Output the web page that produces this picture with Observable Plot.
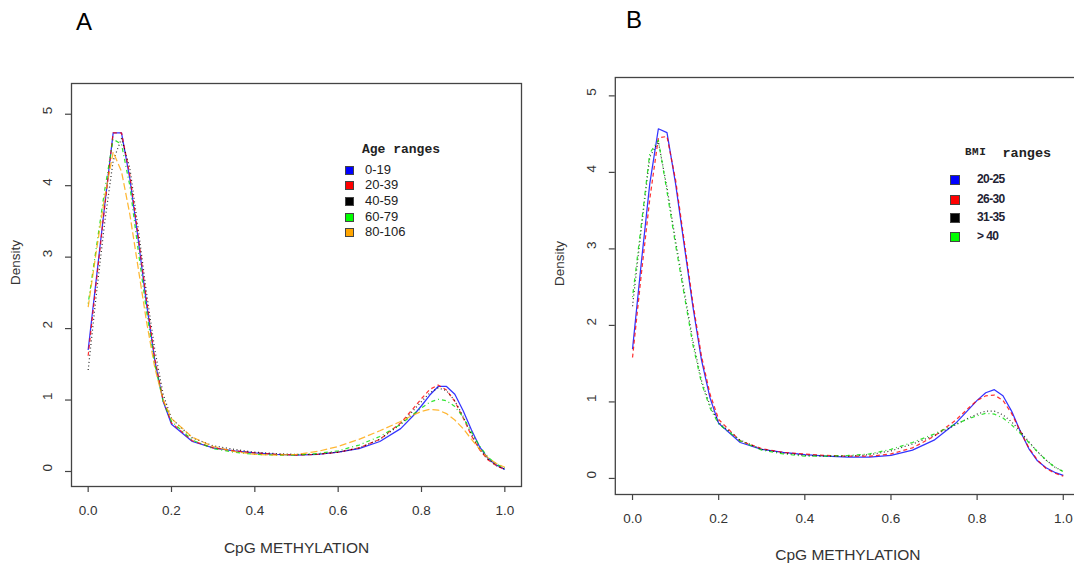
<!DOCTYPE html>
<html><head><meta charset="utf-8">
<script src="https://cdn.jsdelivr.net/npm/d3@7"></script>
<script src="https://cdn.jsdelivr.net/npm/@observablehq/plot@0.6"></script>
<style>
html,body{margin:0;padding:0;background:#fff;}
body{width:1074px;height:565px;overflow:hidden;position:relative;font-family:"Liberation Sans",Arial,sans-serif;}
.panel{position:absolute;top:0;height:565px;}
.panel svg{max-width:none !important;}
.letter{position:absolute;font-size:24px;color:#000;line-height:1;}
.legtitle{position:absolute;font-family:"Liberation Mono","DejaVu Sans Mono",monospace;font-weight:bold;color:#222;line-height:1;white-space:pre;}
.legrow{position:absolute;line-height:1;white-space:pre;}
.sw{position:absolute;box-sizing:border-box;border:1px solid #444;}
</style></head><body>
<div id="A" class="panel" style="left:0;width:540px"></div>
<div id="B" class="panel" style="left:540px;width:560px"></div>
<div class="letter" style="left:76px;top:10px">A</div>
<div class="letter" style="left:626px;top:8px">B</div>
<script>
// ---------- data ----------
const xGrid = [0,0.02,0.04,0.06,0.08,0.10,0.12,0.14,0.16,0.18,0.20,0.25,0.30,0.35,0.40,0.45,0.50,0.55,0.60,0.65,0.70,0.75,0.78,0.80,0.82,0.84,0.86,0.88,0.90,0.92,0.94,0.96,0.98,1.00];

const ageGroups = ["0-19","20-39","40-59","60-79","80-106"];
const age_0_19   = [1.70,2.72,3.74,4.74,4.74,4.10,3.25,2.35,1.55,0.98,0.66,0.42,0.33,0.29,0.26,0.24,0.23,0.24,0.27,0.32,0.42,0.60,0.78,0.92,1.07,1.19,1.19,1.08,0.85,0.58,0.34,0.18,0.09,0.03];
const age_20_39  = [1.62,2.68,3.72,4.74,4.74,4.15,3.30,2.40,1.58,1.00,0.68,0.43,0.33,0.29,0.26,0.24,0.23,0.24,0.27,0.33,0.45,0.68,0.88,1.02,1.15,1.21,1.14,0.98,0.75,0.50,0.30,0.16,0.08,0.03];
const age_40_59  = [1.42,2.50,3.50,4.35,4.66,4.25,3.40,2.50,1.70,1.08,0.74,0.47,0.36,0.31,0.27,0.25,0.24,0.24,0.27,0.33,0.45,0.66,0.85,0.98,1.10,1.17,1.13,0.99,0.77,0.52,0.31,0.17,0.08,0.03];
const age_60_79  = [2.35,3.15,3.95,4.65,4.58,4.00,3.10,2.25,1.50,0.98,0.70,0.44,0.32,0.27,0.24,0.23,0.23,0.25,0.29,0.37,0.49,0.66,0.80,0.89,0.97,1.01,0.99,0.91,0.76,0.55,0.35,0.20,0.10,0.05];
const age_80_106 = [2.30,3.10,3.85,4.47,4.20,3.60,2.85,2.10,1.45,1.00,0.74,0.48,0.35,0.28,0.24,0.23,0.24,0.28,0.35,0.45,0.57,0.70,0.79,0.84,0.87,0.86,0.81,0.72,0.60,0.45,0.31,0.19,0.11,0.06];

const bmiGroups = ["20-25","26-30","31-35","> 40"];
const bmi_20_25 = [1.69,2.80,3.85,4.57,4.52,3.85,3.05,2.25,1.55,1.05,0.72,0.47,0.38,0.34,0.31,0.29,0.28,0.28,0.30,0.37,0.50,0.72,0.90,1.02,1.12,1.16,1.08,0.88,0.62,0.39,0.23,0.14,0.08,0.04];
const bmi_26_30 = [1.58,2.65,3.65,4.45,4.47,3.90,3.10,2.30,1.60,1.10,0.77,0.49,0.39,0.34,0.32,0.30,0.29,0.29,0.32,0.40,0.55,0.76,0.92,1.02,1.08,1.09,1.02,0.85,0.62,0.40,0.24,0.13,0.07,0.03];
const bmi_31_35 = [2.25,3.25,4.20,4.40,3.80,3.10,2.45,1.80,1.28,0.95,0.73,0.50,0.38,0.33,0.30,0.29,0.29,0.31,0.36,0.45,0.56,0.70,0.79,0.84,0.88,0.88,0.83,0.74,0.62,0.48,0.35,0.24,0.15,0.09];
const bmi_gt_40 = [2.37,3.30,4.25,4.42,3.75,3.05,2.40,1.75,1.25,0.92,0.71,0.49,0.37,0.32,0.29,0.29,0.30,0.32,0.38,0.47,0.58,0.71,0.78,0.82,0.85,0.84,0.79,0.70,0.59,0.47,0.35,0.24,0.15,0.09];

const xTicks = [0,0.2,0.4,0.6,0.8,1.0];
const yTicks = [0,1,2,3,4,5];
const xTitle = "CpG METHYLATION";
const yTitle = "Density";

// ---------- styles ----------
const lineColors = ["#0000ff","#ff0000","#000000","#00dd00","#ffa500"];
const lineDash   = [null,"4,3","1,2.6","1,3,4,3","7,3"];
const swatchColors = ["#0000ff","#ff0000","#000000","#00ff00","#ffa500"];

function panel(el, cfg) {
  const rows = [];
  cfg.series.forEach((vals, i) => vals.forEach((v, j) => rows.push({g: cfg.groups[i], i, x: xGrid[j], y: v})));
  const lines = cfg.series.map((_, i) => Plot.line(rows.filter(r => r.i === i), {
    x: "x", y: "y", stroke: lineColors[i], strokeWidth: 1.25, strokeOpacity: 0.8,
    strokeDasharray: lineDash[i], strokeLinecap: "butt", curve: "linear"
  }));
  const svg = Plot.plot({
    width: cfg.width, height: 565,
    marginLeft: cfg.ml, marginRight: cfg.mr, marginTop: cfg.mt, marginBottom: cfg.mb,
    x: {domain: [-0.04, 1.04]},
    y: {domain: cfg.ydom},
    style: {fontFamily: "Liberation Sans, Arial, sans-serif", background: "none", overflow: "visible", color: "#444", maxWidth: "none"},
    marks: [
      ...lines,
      Plot.frame({stroke: "#444", strokeWidth: 1.3}),
      Plot.axisX(xTicks, {tickSize: 6, tickFormat: () => "", label: null, stroke: "#444", strokeWidth: 1.2}),
      Plot.axisY(yTicks, {tickSize: 6, tickFormat: () => "", label: null, stroke: "#444", strokeWidth: 1.2}),
      Plot.text(xTicks, {x: d => d, frameAnchor: "bottom", dy: 24, text: d3.format(".1f"), fontSize: 13.5, fill: "#333", lineAnchor: "middle"}),
      Plot.text(yTicks, {y: d => d, frameAnchor: "left", dx: -24, rotate: -90, text: d => String(d), fontSize: 13.5, fill: "#333", lineAnchor: "middle"}),
      Plot.text([yTitle], {frameAnchor: "left", dx: -56, rotate: -90, text: d => d, fontSize: 13.5, fill: "#333", lineAnchor: "middle"}),
      Plot.text([xTitle], {frameAnchor: "bottom", dy: cfg.titleDy, text: d => d, fontSize: 15.5, fill: "#333", lineAnchor: "middle"})
    ]
  });
  svg.style.maxWidth = "none";
  el.appendChild(svg);
}

panel(document.getElementById("A"), {
  width: 540, ml: 71, mr: 19, mt: 83, mb: 79, ydom: [-0.21, 5.43], titleDy: 62,
  groups: ageGroups, series: [age_0_19, age_20_39, age_40_59, age_60_79, age_80_106]
});
panel(document.getElementById("B"), {
  width: 560, ml: 74.8, mr: 20, mt: 77, mb: 71, ydom: [-0.21, 5.24], titleDy: 61,
  groups: bmiGroups, series: [bmi_20_25, bmi_26_30, bmi_31_35, bmi_gt_40]
});

// ---------- legends ----------
function legend(cfg) {
  const t = document.createElement("div");
  t.className = "legtitle";
  t.style.left = cfg.tx + "px"; t.style.top = cfg.ty + "px";
  t.innerHTML = cfg.title;
  document.body.appendChild(t);
  cfg.groups.forEach((g, i) => {
    const cy = cfg.rows[i];
    const s = document.createElement("div");
    s.className = "sw";
    s.style.left = cfg.sx + "px"; s.style.top = (cy - cfg.sh / 2) + "px";
    s.style.width = cfg.sw + "px"; s.style.height = cfg.sh + "px";
    s.style.background = swatchColors[i];
    document.body.appendChild(s);
    const l = document.createElement("div");
    l.className = "legrow";
    l.textContent = g;
    l.style.left = cfg.lx + "px"; l.style.top = (cy - cfg.fs * 0.55) + "px";
    l.style.fontSize = cfg.fs + "px"; l.style.fontWeight = cfg.fw;
    l.style.color = cfg.color; l.style.letterSpacing = cfg.ls;
    document.body.appendChild(l);
  });
}
legend({title: '<span style="font-size:13px">Age ranges</span>', tx: 362, ty: 141,
  groups: ageGroups, rows: [170,185,201,217,232], sx: 345, sw: 9, sh: 9, lx: 365, fs: 13, fw: "normal", color: "#222", ls: "0px"});
legend({title: '<span style="font-size:11px;letter-spacing:0.5px;vertical-align:2px">BMI</span><span style="font-size:13.5px">  ranges</span>', tx: 965, ty: 145,
  groups: bmiGroups, rows: [180,200,218,237], sx: 950, sw: 10, sh: 10, lx: 977, fs: 12, fw: "bold", color: "#223", ls: "-0.6px"});
</script>
</body></html>
